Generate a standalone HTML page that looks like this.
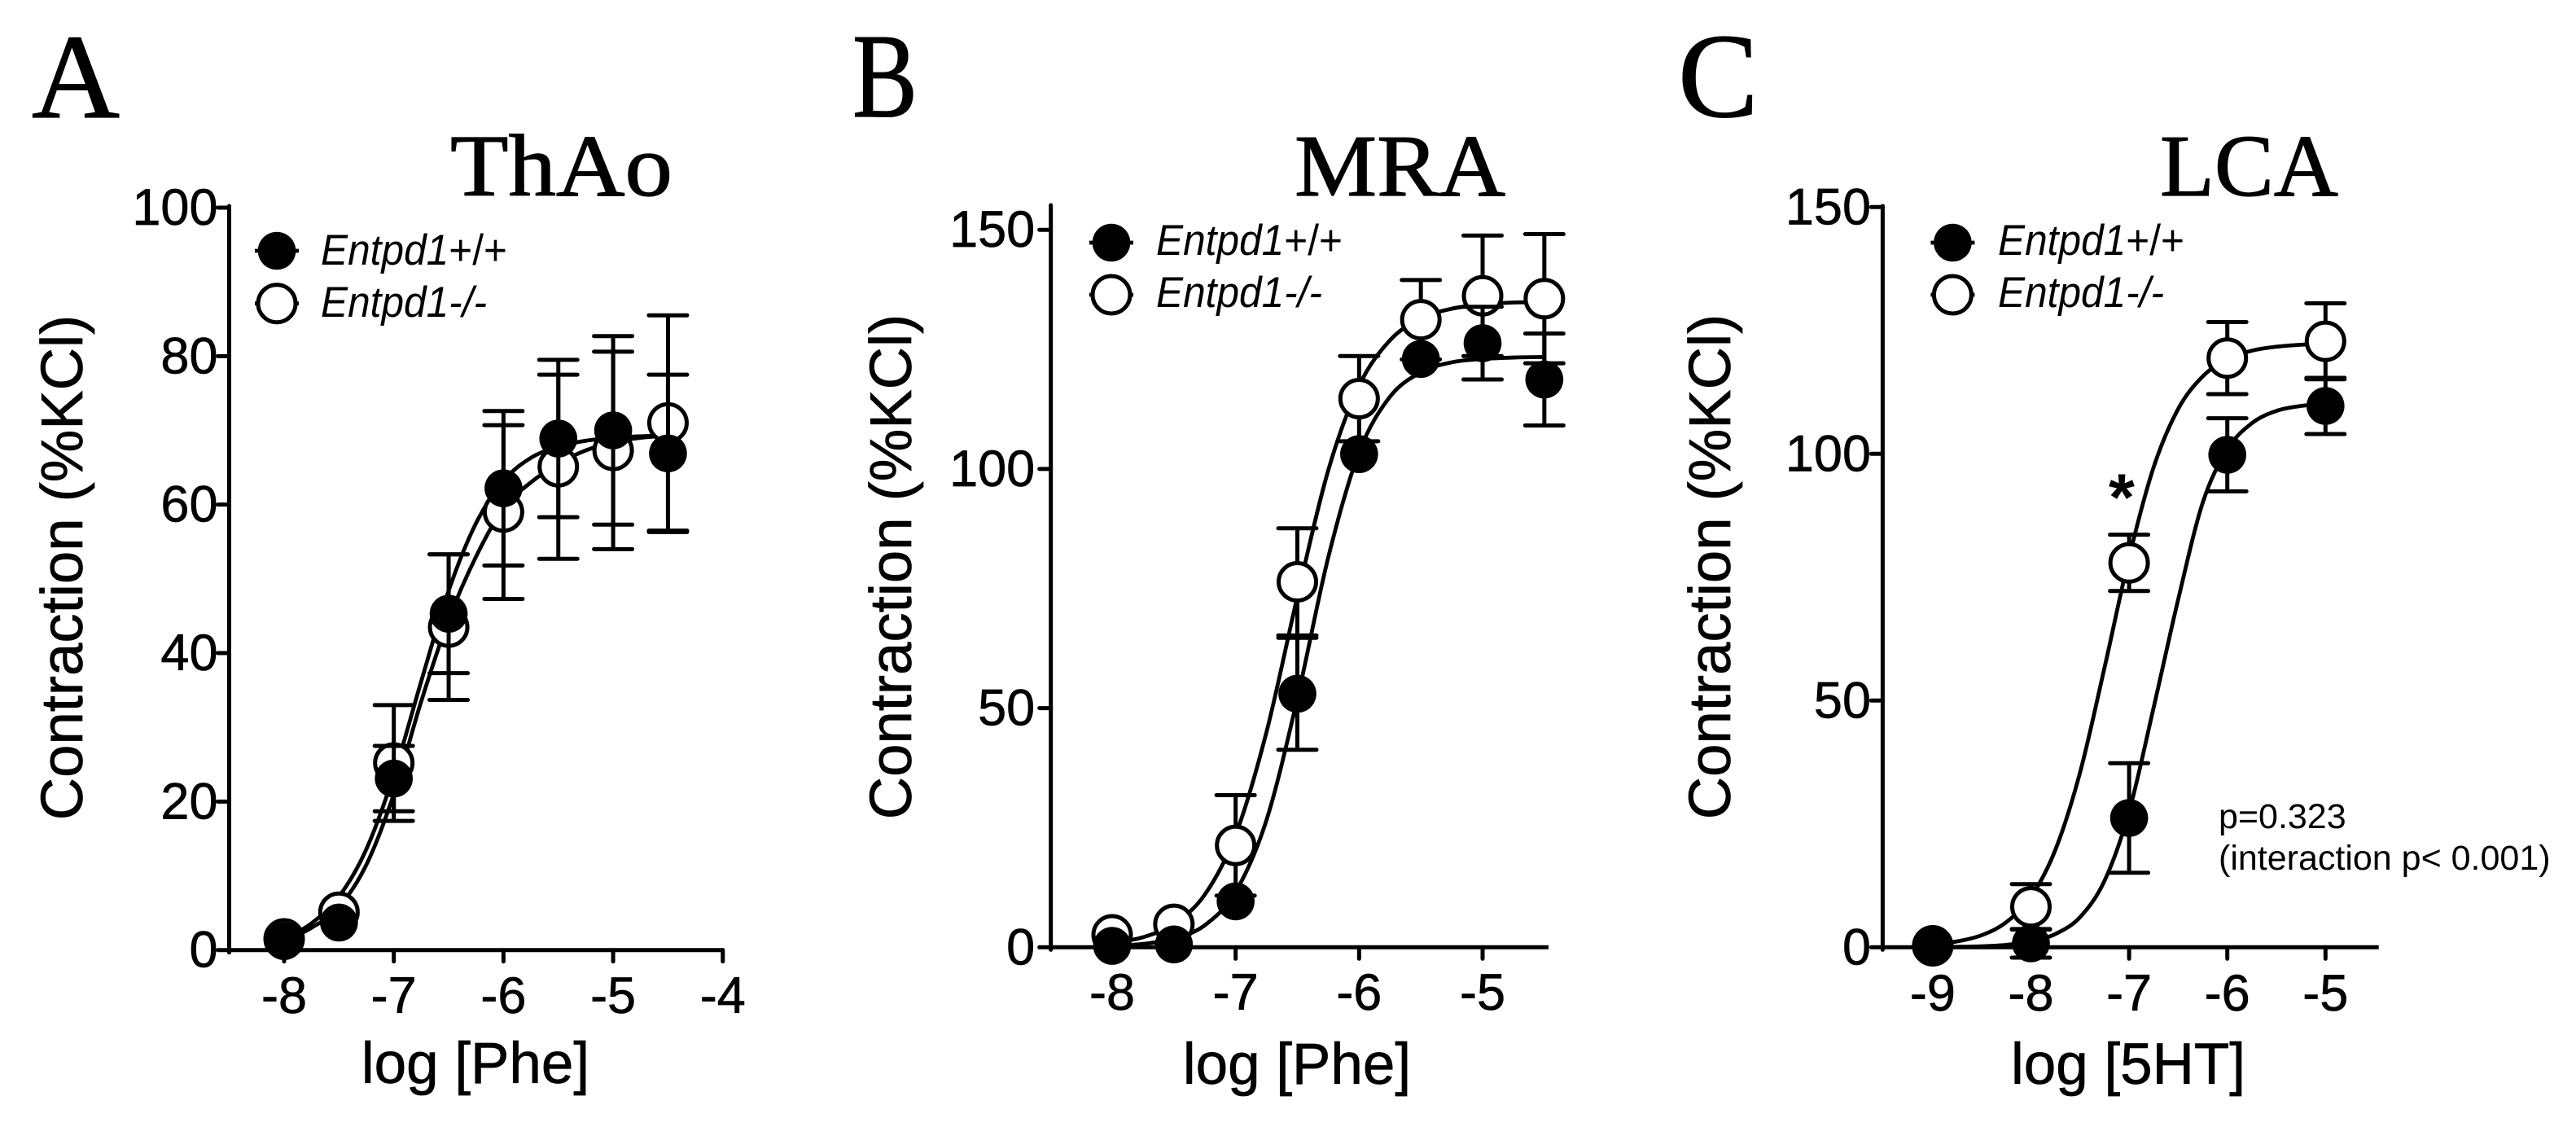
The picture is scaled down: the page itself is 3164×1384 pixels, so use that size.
<!DOCTYPE html>
<html lang="en">
<head>
<meta charset="utf-8">
<title>Contraction dose-response curves</title>
<style>
html,body{margin:0;padding:0;background:#fff;}
svg{display:block;}
text{font-family:"Liberation Sans",sans-serif;fill:#000;}
.serif{font-family:"Liberation Serif",serif;stroke:#000;stroke-width:1.2px;}
.tick{font-size:63px;stroke:#000;stroke-width:0.7px;}
.axis-title{font-size:71px;stroke:#000;stroke-width:0.7px;}
.y-title{font-size:72.5px;stroke:#000;stroke-width:0.7px;}
.letter{font-size:148px;}
.title{font-size:108px;}
.legend{font-size:53px;font-style:italic;}
.legend tspan.plain{font-style:normal;}
.note{font-size:43px;}
</style>
</head>
<body>
<svg id="figure" xmlns="http://www.w3.org/2000/svg" width="3164" height="1384" viewBox="0 0 3164 1384">
  <rect x="0" y="0" width="3164" height="1384" fill="#fff"/>

  <g id="panel-a">
    <text class="serif letter" x="39" y="144" textLength="108" lengthAdjust="spacingAndGlyphs">A</text>
    <text class="serif title" x="553" y="240" textLength="273" lengthAdjust="spacingAndGlyphs">ThAo</text>
    <text class="y-title" text-anchor="middle" transform="translate(101 697) rotate(-90)">Contraction (%KCl)</text>
    <text class="axis-title" text-anchor="middle" x="584" y="1330">log [Phe]</text>
    <text class="legend" x="394" y="325" textLength="229" lengthAdjust="spacingAndGlyphs">Entpd1<tspan class="plain">+/+</tspan></text>
    <text class="legend" x="394" y="389" textLength="204" lengthAdjust="spacingAndGlyphs">Entpd1-/-</text>
  </g>

  <g id="panel-b">
    <text class="serif letter" x="1047" y="143" textLength="80" lengthAdjust="spacingAndGlyphs">B</text>
    <text class="serif title" x="1590" y="240" textLength="259" lengthAdjust="spacingAndGlyphs">MRA</text>
    <text class="y-title" text-anchor="middle" transform="translate(1119 696) rotate(-90)">Contraction (%KCl)</text>
    <text class="axis-title" text-anchor="middle" x="1593" y="1331">log [Phe]</text>
    <text class="legend" x="1420" y="313" textLength="229" lengthAdjust="spacingAndGlyphs">Entpd1<tspan class="plain">+/+</tspan></text>
    <text class="legend" x="1420" y="377" textLength="204" lengthAdjust="spacingAndGlyphs">Entpd1-/-</text>
  </g>

  <g id="panel-c">
    <text class="serif letter" x="2061" y="143">C</text>
    <text class="serif title" x="2653" y="240" textLength="219" lengthAdjust="spacingAndGlyphs">LCA</text>
    <text class="y-title" text-anchor="middle" transform="translate(2125 696) rotate(-90)">Contraction (%KCl)</text>
    <text class="axis-title" text-anchor="middle" x="2614" y="1331">log [5HT]</text>
    <text class="legend" x="2454" y="313" textLength="229" lengthAdjust="spacingAndGlyphs">Entpd1<tspan class="plain">+/+</tspan></text>
    <text class="legend" x="2454" y="377" textLength="204" lengthAdjust="spacingAndGlyphs">Entpd1-/-</text>
    <text x="2606" y="639" text-anchor="middle" font-size="82" font-weight="bold">*</text>
    <text class="note" x="2725" y="1017">p=0.323</text>
    <text class="note" x="2725" y="1068">(interaction p&lt; 0.001)</text>
  </g>
</svg>

<script>
// ---- Panel A (ThAo) data ----
const aDoses = [-8, -7.5, -7, -6.5, -6, -5.5, -5, -4.5];
const aWtMeans = [1.2, 3.7, 23.1, 45.3, 62.2, 68.9, 70, 66.9];
const aWtSem = [0, 0, 4.4, 8, 10.4, 10.6, 12.7, 10.6];
const aKoMeans = [1.5, 5.1, 25.2, 43.5, 59, 65.1, 67.3, 71];
const aKoSem = [0, 0, 7.8, 9.8, 11.7, 12.4, 13.3, 14.5];
const aCurveDoses = [-8, -7.75, -7.5, -7.25, -7, -6.75, -6.5, -6.25, -6, -5.75, -5.5, -5.25, -5, -4.75, -4.5];
const aWtCurve = [1.5, 3.6, 7.2, 13.6, 23.6, 36.2, 48.4, 57.5, 63.2, 66.3, 67.8, 68.6, 69, 69.2, 69.3];
const aKoCurve = [1.2, 3, 5.8, 11.5, 21, 33.5, 44.5, 53, 59.5, 63, 65.5, 67.3, 68.4, 69, 69.3];
const aXTicks = [-8, -7, -6, -5, -4];
const aYTicks = [0, 20, 40, 60, 80, 100];

// ---- Panel B (MRA) data ----
const bDoses = [-8, -7.5, -7, -6.5, -6, -5.5, -5, -4.5];
const bWtMeans = [0.3, 0.6, 9.6, 53, 103.1, 123, 126.3, 118.7];
const bWtSem = [0, 0, 0, 11.7, 0, 0, 7.6, 9.6];
const bKoMeans = [2.6, 4.8, 21.3, 76.4, 114.7, 131.2, 136.2, 135.6];
const bKoSem = [0, 0, 10.5, 11.2, 8.9, 8.3, 12.6, 13.5];
const bCurveDoses = [-8, -7.75, -7.5, -7.25, -7, -6.75, -6.5, -6.25, -6, -5.75, -5.5, -5.25, -5, -4.75, -4.5];
const bWtCurve = [0.25, 0.7, 1.8, 4.6, 11.6, 26.6, 52, 81.5, 103.5, 115.1, 120.2, 122.3, 123, 123.3, 123.4];
const bKoCurve = [0.9, 2.1, 4.9, 11, 23.5, 45, 73.3, 99.7, 117.4, 126.9, 131.5, 133.5, 134.4, 134.8, 134.9];
const bXTicks = [-8, -7, -6, -5];
const bYTicks = [0, 50, 100, 150];

// ---- Panel C (LCA) data ----
const cDoses = [-9, -8, -7, -6, -5];
const cWtMeans = [0.3, 0.8, 26.2, 99.8, 109.7];
const cWtSem = [0, 2.9, 11.1, 7.4, 5.7];
const cKoMeans = [0.3, 8.2, 77.9, 119.4, 122.8];
const cKoSem = [0, 4.6, 5.7, 7.3, 7.7];
const cCurveDoses = [-9, -8.75, -8.5, -8.25, -8, -7.75, -7.5, -7.25, -7, -6.75, -6.5, -6.25, -6, -5.75, -5.5, -5.25, -5];
const cWtCurve = [0.04, 0.09, 0.2, 0.49, 1.15, 2.7, 6.1, 13.5, 27.5, 48.6, 70.5, 90.1, 100.9, 106.2, 108.7, 109.7, 110.1];
const cKoCurve = [0.55, 1.2, 2.45, 5.1, 10.2, 19.8, 35.4, 56.7, 79, 97.3, 109.1, 115.7, 119.2, 120.9, 121.7, 122.1, 122.3];
const cXTicks = [-9, -8, -7, -6, -5];
const cYTicks = [0, 50, 100, 150];

// ---- Layout (separate from the data) ----
const SVGNS = 'http://www.w3.org/2000/svg';
const STROKE = 5;
const LINE = 4.8;
const CAP_HALF = 23.5;
const MARKER_R = 23.3;
const OPEN_R = 23;

function mk(tag, attrs, parent) {
  const el = document.createElementNS(SVGNS, tag);
  for (const k in attrs) { el.setAttribute(k, attrs[k]); }
  parent.appendChild(el);
  return el;
}

function curvePath(xs, ys, xScale, yScale) {
  const p = xs.map((x, i) => [xScale(x), yScale(ys[i])]);
  let d = 'M' + p[0][0].toFixed(2) + ' ' + p[0][1].toFixed(2);
  for (let i = 0; i < p.length - 1; i++) {
    const p0 = p[Math.max(i - 1, 0)], p1 = p[i], p2 = p[i + 1], p3 = p[Math.min(i + 2, p.length - 1)];
    const c1x = p1[0] + (p2[0] - p0[0]) / 6, c1y = p1[1] + (p2[1] - p0[1]) / 6;
    const c2x = p2[0] - (p3[0] - p1[0]) / 6, c2y = p2[1] - (p3[1] - p1[1]) / 6;
    d += 'C' + c1x.toFixed(2) + ' ' + c1y.toFixed(2) + ' ' + c2x.toFixed(2) + ' ' + c2y.toFixed(2) + ' ' + p2[0].toFixed(2) + ' ' + p2[1].toFixed(2);
  }
  return d;
}

function drawMarker(group, series, cx, cy) {
  if (series === 'wt') {
    return mk('circle', {cx: cx, cy: cy, r: MARKER_R, fill: '#000'}, group);
  }
  return mk('circle', {cx: cx, cy: cy, r: OPEN_R, fill: '#fff', stroke: '#000', 'stroke-width': STROKE}, group);
}

function drawPanel(p) {
  const parent = document.getElementById(p.id);
  const xScale = v => p.x0 + (v - p.xRef) * p.xStep;
  const yScale = v => p.yZero - v * p.yStep;

  // Axes
  const yAxis = mk('line', {x1: p.axisX, x2: p.axisX, y1: p.axisTop, y2: p.yZero + 3, stroke: '#000', 'stroke-width': STROKE, 'stroke-linecap': 'round'}, parent);
  
  
  const xAxis = mk('line', {x1: p.axisX, x2: p.axisEnd, y1: p.yZero, y2: p.yZero, stroke: '#000', 'stroke-width': STROKE}, parent);
  
  

  p.yTicks.forEach(v => {
    const y = yScale(v);
    const t = mk('line', {x1: p.axisX - 14, x2: p.axisX, y1: y, y2: y, stroke: '#000', 'stroke-width': STROKE, 'stroke-linecap': 'round'}, parent);
    
    
    const l = mk('text', {x: p.axisX - p.labelGap, y: y + 21, 'text-anchor': 'end', class: 'tick'}, parent);
    l.textContent = String(v);
    
    
  });

  p.xTicks.forEach(v => {
    const x = xScale(v);
    const t = mk('line', {x1: x, x2: x, y1: p.yZero, y2: p.yZero + 14, stroke: '#000', 'stroke-width': STROKE, 'stroke-linecap': 'round'}, parent);
    
    
    const l = mk('text', {x: x, y: p.xLabelY, 'text-anchor': 'middle', class: 'tick'}, parent);
    l.textContent = String(v);
    
    
  });

  // Fitted curves
  const wtCurve = mk('path', {d: curvePath(p.curveDoses, p.wtCurve, xScale, yScale), fill: 'none', stroke: '#000', 'stroke-width': LINE}, parent);
  
  
  const koCurve = mk('path', {d: curvePath(p.curveDoses, p.koCurve, xScale, yScale), fill: 'none', stroke: '#000', 'stroke-width': LINE}, parent);
  
  

  // Points with error bars: open series first, filled series on top
  const seriesData = {ko: {means: p.koMeans, sem: p.koSem}, wt: {means: p.wtMeans, sem: p.wtSem}};
  ['ko', 'wt'].forEach(s => {
    p.doses.forEach((dose, i) => {
      const m = seriesData[s].means[i];
      const e = seriesData[s].sem[i];
      const cx = xScale(dose);
      if (e > 0) {
        const hi = yScale(m + e);
        const lo = yScale(m - e);
        const bar = mk('path', {
          d: 'M' + cx + ' ' + hi + 'V' + lo +
             'M' + (cx - CAP_HALF) + ' ' + hi + 'H' + (cx + CAP_HALF) +
             'M' + (cx - CAP_HALF) + ' ' + lo + 'H' + (cx + CAP_HALF),
          fill: 'none', stroke: '#000', 'stroke-width': STROKE, 'stroke-linecap': 'round'
        }, parent);
        
        
      }
      const dot = drawMarker(parent, s, cx, yScale(m));
      
      
    });
  });

  // Legend markers
  const stubWt = mk('line', {x1: p.legendX - 27, x2: p.legendX + 27, y1: p.legendY1, y2: p.legendY1, stroke: '#000', 'stroke-width': LINE}, parent);
  
  
  const lmWt = drawMarker(parent, 'wt', p.legendX, p.legendY1);
  
  
  const stubKo = mk('line', {x1: p.legendX - 27, x2: p.legendX + 27, y1: p.legendY2, y2: p.legendY2, stroke: '#000', 'stroke-width': LINE}, parent);
  
  
  const lmKo = drawMarker(parent, 'ko', p.legendX, p.legendY2);
  
  
}

drawPanel({
  id: 'panel-a', key: 'a',
  doses: aDoses, wtMeans: aWtMeans, wtSem: aWtSem, koMeans: aKoMeans, koSem: aKoSem,
  curveDoses: aCurveDoses, wtCurve: aWtCurve, koCurve: aKoCurve, xTicks: aXTicks, yTicks: aYTicks,
  xRef: -8, x0: 349, xStep: 134.7, yZero: 1166.7, yStep: 9.117,
  axisX: 281.5, axisTop: 253, axisEnd: 889, labelGap: 14, xLabelY: 1244,
  legendX: 340, legendY1: 308, legendY2: 372.7
});
drawPanel({
  id: 'panel-b', key: 'b',
  doses: bDoses, wtMeans: bWtMeans, wtSem: bWtSem, koMeans: bKoMeans, koSem: bKoSem,
  curveDoses: bCurveDoses, wtCurve: bWtCurve, koCurve: bKoCurve, xTicks: bXTicks, yTicks: bYTicks,
  xRef: -8, x0: 1366, xStep: 151.67, yZero: 1163.3, yStep: 5.874,
  axisX: 1290.7, axisTop: 252, axisEnd: 1902, labelGap: 19.5, xLabelY: 1240,
  legendX: 1365, legendY1: 298, legendY2: 362
});
drawPanel({
  id: 'panel-c', key: 'c',
  doses: cDoses, wtMeans: cWtMeans, wtSem: cWtSem, koMeans: cKoMeans, koSem: cKoSem,
  curveDoses: cCurveDoses, wtCurve: cWtCurve, koCurve: cKoCurve, xTicks: cXTicks, yTicks: cYTicks,
  xRef: -9, x0: 2373.9, xStep: 120.6, yZero: 1163.3, yStep: 6.06,
  axisX: 2312.4, axisTop: 253, axisEnd: 2921.7, labelGap: 14.4, xLabelY: 1241,
  legendX: 2398.4, legendY1: 298, legendY2: 362
});
</script>
</body>
</html>
